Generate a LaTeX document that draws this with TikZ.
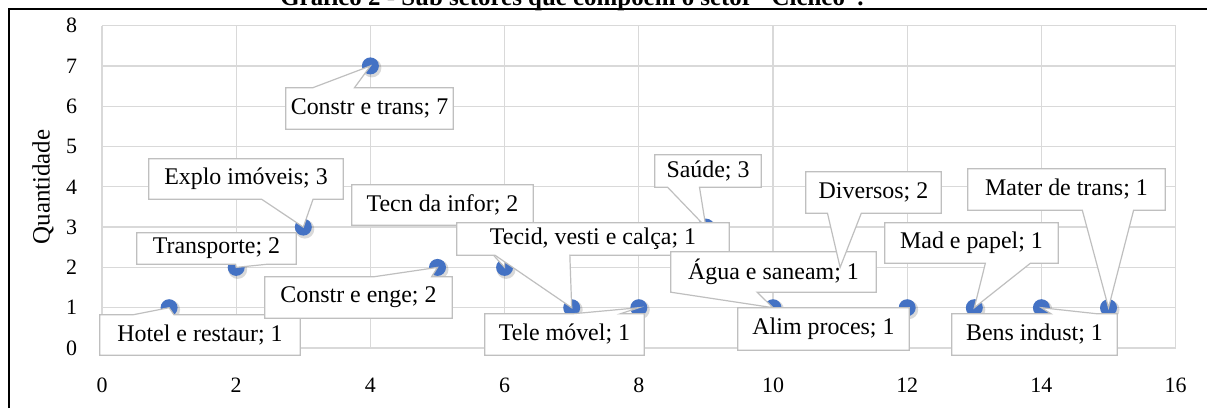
\documentclass[tikz,border=0pt]{standalone}
\usepackage{fontspec}
\setmainfont{Liberation Serif}
\usetikzlibrary{calc}

\definecolor{dotblue}{HTML}{4472C4}
\definecolor{gridgray}{HTML}{D9D9D9}
\definecolor{boxgray}{HTML}{BFBFBF}

% #1 point name, #2 box centre, #3 box size, #4 text, #5 side with pointer, #6/#7 pointer base
\newcommand{\callout}[7]{%
  \node[lblgeom, #3] (#1-lbl) at (#2) {};
  \filldraw[lblline] (#1-lbl.#5 west)
    -- ($(#1-lbl.#5 west)!#6!(#1-lbl.#5 east)$)
    -- (#1.center)
    -- ($(#1-lbl.#5 west)!#7!(#1-lbl.#5 east)$)
    -- (#1-lbl.#5 east)
    -- ($(#1-lbl.#5 east)!2!(#1-lbl.east)$)
    -- ($(#1-lbl.#5 west)!2!(#1-lbl.west)$)
    -- cycle;
  \node[lbltext] at (#1-lbl.center) {#4};
}

\begin{document}
\begin{tikzpicture}[
    x=1bp, y=-1bp,
    gridline/.style={draw=gridgray, line width=1.3bp},
    tick/.style={font=\fontsize{22}{26}\selectfont, inner sep=0pt},
    dot/.style={circle, fill=dotblue, minimum size=17bp, inner sep=0pt},
    dotshadow/.style={circle, fill=black, opacity=0.15, minimum size=19bp, inner sep=0pt, xshift=1.5bp, yshift=-2bp},
    lblgeom/.style={inner sep=0pt, rectangle},
    lblline/.style={draw=boxgray, fill=white, line width=1.2bp},
    lbltext/.style={font=\fontsize{24}{28}\selectfont, inner sep=0pt}
]
\useasboundingbox (0,0) rectangle (1207,408);

% frame and title
\draw[line width=2.2bp] (9,408) -- (9,9) -- (1207,9);
\node[font=\fontsize{25}{28}\selectfont\bfseries, anchor=base, inner sep=0pt] (title) at (572,5)
    {Gráfico 2 - Sub setores que compõem o setor “Cíclico”.};

\node[font=\fontsize{25}{28}\selectfont, rotate=90, inner sep=0pt] (ylabel) at (43,187) {Quantidade};

\begin{scope}[shift={(102,348)}, x=67.1bp, y=40.3bp]
    \foreach \gx in {0,2,...,16} {
        \draw[gridline] (\gx,0) -- (\gx,8);
        \node[tick] (xt\gx) at (\gx,-0.92) {\gx};
    }
    \foreach \gy in {0,...,8} {
        \draw[gridline] (0,\gy) -- (16,\gy);
        \node[tick, anchor=east] (yt\gy) at (-0.37,\gy) {\gy};
    }
    \foreach \n/\vx/\vy in {hotel/1/1, transp/2/2, explo/3/3, ctrans/4/7, cenge/5/2,
                           tecn/6/2, tecid/7/1, tele/8/1, saude/9/3, agua/10/1,
                           divers/11/2, alim/12/1, mad/13/1, bens/14/1, mater/15/1} {
        \node[dotshadow] at (\vx,\vy) {};
        \node[dot] (\n) at (\vx,\vy) {};
    }
\end{scope}

% data labels
\callout{hotel}{200,335}{minimum width=200bp, minimum height=40bp}{Hotel e restaur; 1}{north}{0.165}{0.37}
\callout{transp}{216.5,248.5}{minimum width=159bp, minimum height=31bp}{Transporte; 2}{south}{0.62}{0.82}
\callout{explo}{246,179}{minimum width=194bp, minimum height=40bp}{Explo imóveis; 3}{south}{0.58}{0.845}
\callout{ctrans}{369.5,108.5}{minimum width=167bp, minimum height=41bp}{Constr e trans; 7}{north}{0.16}{0.41}
\callout{cenge}{358.5,297.5}{minimum width=187bp, minimum height=41bp}{Constr e enge; 2}{north}{0.58}{0.89}
\callout{tecn}{442.5,205}{minimum width=181bp, minimum height=40bp}{Tecn da infor; 2}{south}{0.63}{0.845}
\callout{saude}{708,171}{minimum width=106bp, minimum height=32bp}{Saúde; 3}{south}{0.12}{0.42}
\callout{tecid}{593,239}{minimum width=272bp, minimum height=32bp}{Tecid, vesti e calça; 1}{south}{0.14}{0.415}
\callout{tele}{564.5,334.5}{minimum width=159bp, minimum height=41bp}{Tele móvel; 1}{north}{0.55}{0.85}
\callout{agua}{773.5,272}{minimum width=205bp, minimum height=40bp}{Água e saneam; 1}{south}{0.0}{0.42}
\callout{divers}{873.5,192.5}{minimum width=135bp, minimum height=41bp}{Diversos; 2}{south}{0.16}{0.41}
\callout{alim}{823.5,329}{minimum width=171bp, minimum height=42bp}{Alim proces; 1}{north}{0.9}{1.0}
\callout{mad}{971.5,243}{minimum width=173bp, minimum height=40bp}{Mad e papel; 1}{south}{0.58}{0.84}
\callout{bens}{1034.5,334.5}{minimum width=165bp, minimum height=41bp}{Bens indust; 1}{north}{0.6}{0.88}
\callout{mater}{1066.5,189.5}{minimum width=197bp, minimum height=41bp}{Mater de trans; 1}{south}{0.58}{0.84}
\end{tikzpicture}
\end{document}
